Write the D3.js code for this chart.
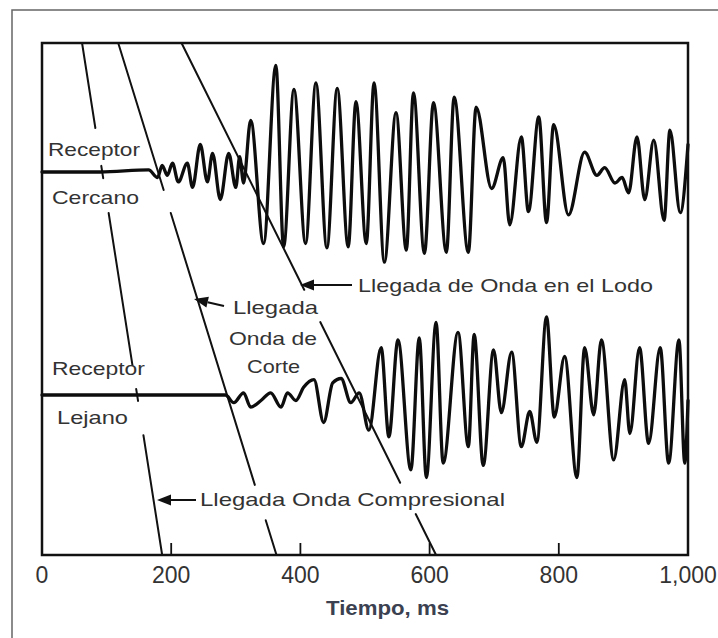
<!DOCTYPE html>
<html><head><meta charset="utf-8">
<script src="https://cdn.jsdelivr.net/npm/d3@7"></script>
<style>body{margin:0;background:#fff;} svg{display:block;}</style>
</head><body><svg id="chart" width="718" height="638"></svg>
<script>
// ---------- data ----------
const timeTicks = [0, 200, 400, 600, 800, 1000];
const tickLabels = ["0", "200", "400", "600", "800", "1,000"];
const innerTicks = [200, 400, 600, 800];

// Near receiver waveform (time ms, relative amplitude)
const nearTime = [0, 90, 165, 179, 186, 194, 202, 211, 225, 233, 245, 256, 264, 276, 289, 300, 306, 312,
  323, 343, 362, 374, 390, 408, 424, 441, 457, 474, 486, 502, 514, 530, 548, 564, 575, 592, 606, 626,
  638, 660, 672, 696, 714, 724, 742, 753, 769, 781, 792, 815, 840, 859, 871, 887, 898, 908, 921, 933,
  947, 963, 972, 988, 1000];
const nearAmp = [0, 0, 0.02, -0.05, 0.06, -0.03, 0.08, -0.09, 0.08, -0.14, 0.25, -0.09, 0.17, -0.25, 0.17, -0.14, 0.14, -0.10,
  0.47, -0.65, 0.97, -0.68, 0.75, -0.65, 0.81, -0.69, 0.76, -0.68, 0.64, -0.65, 0.81, -0.82, 0.54, -0.71, 0.72, -0.74, 0.63, -0.73,
  0.68, -0.73, 0.59, -0.15, 0.13, -0.48, 0.32, -0.36, 0.50, -0.46, 0.43, -0.39, 0.18, -0.03, 0.04, -0.10, -0.05, -0.19, 0.32, -0.25,
  0.29, -0.44, 0.38, -0.37, 0.25];

// Far receiver waveform (time ms, relative amplitude)
const farTime = [0, 284, 297, 312, 323, 339, 354, 370, 380, 393, 405, 421, 436, 450, 463, 478, 491, 506, 525, 537,
  551, 571, 584, 595, 610, 621, 644, 660, 669, 683, 699, 711, 727, 742, 755, 766, 781, 793, 809, 828,
  840, 854, 866, 885, 902, 910, 925, 939, 957, 970, 986, 995, 1000];
const farAmp = [0, 0, -0.07, 0.02, -0.11, -0.05, 0.02, -0.11, 0.02, -0.05, 0.07, 0.14, -0.25, 0.11, 0.15, -0.07, 0.02, -0.32, 0.43, -0.38,
  0.50, -0.68, 0.52, -0.75, 0.66, -0.62, 0.57, -0.47, 0.55, -0.64, 0.41, -0.16, 0.39, -0.47, -0.15, -0.43, 0.71, -0.20, 0.35, -0.75,
  0.43, -0.18, 0.50, -0.59, 0.14, -0.35, 0.43, -0.44, 0.43, -0.62, 0.50, -0.62, -0.05];

// Arrival (moveout) lines: time at top and bottom of the panel, visible depth spans (0 = top, 1 = bottom)
const arrivalNames = ["Compresional", "Corte", "Lodo"];
const arrivalTop = [62, 118, 216];
const arrivalBottom = [186, 363, 610];
const arrivalVisible = [
  [[0, 0.166], [0.24, 0.264], [0.332, 0.629], [0.676, 0.699], [0.766, 1]],
  [[0, 0.287], [0.332, 0.863], [0.932, 1]],
  [[0, 0.482], [0.545, 0.859], [0.92, 1]]
];
const traceDepth = [0.252, 0.6875];

// ---------- layout ----------
const svg = d3.select("#chart");
const box = {left: 42, right: 688, top: 43, bottom: 555};

const x = d3.scaleLinear().domain([0, 1000]).range([box.left, box.right]);
const depth = d3.scaleLinear().domain([0, 1]).range([box.top, box.bottom]);
const amp = d3.scaleLinear().domain([0, 1]).range([0, 110]);

// outer frame
svg.append("rect").attr("x", 12).attr("y", 10).attr("width", 800).attr("height", 800)
  .attr("fill", "none").attr("stroke", "#666").attr("stroke-width", 1.5);

// arrival lines
arrivalNames.forEach((n, i) => {
  const tAt = d => arrivalTop[i] + (arrivalBottom[i] - arrivalTop[i]) * d;
  svg.append("g").attr("class", "arrival-" + n).selectAll("line")
    .data(arrivalVisible[i]).join("line")
    .attr("x1", d => x(tAt(d[0]))).attr("y1", d => depth(d[0]))
    .attr("x2", d => x(tAt(d[1]))).attr("y2", d => depth(d[1]))
    .attr("stroke", "#111").attr("stroke-width", 2).attr("stroke-linecap", "round");
});

// traces
function drawTrace(times, amps, d0) {
  const pts = times.map((t, i) => [t, amps[i]]);
  const line = d3.line()
    .x(d => x(d[0]))
    .y(d => depth(d0) - amp(d[1]))
    .curve(d3.curveMonotoneX);
  svg.append("path").datum(pts).attr("d", line)
    .attr("fill", "none").attr("stroke", "#0d0d0d").attr("stroke-width", 3.3)
    .attr("stroke-linejoin", "round").attr("stroke-linecap", "round");
}
drawTrace(nearTime, nearAmp, traceDepth[0]);
drawTrace(farTime, farAmp, traceDepth[1]);

// panel box
svg.append("rect").attr("x", box.left).attr("y", box.top)
  .attr("width", box.right - box.left).attr("height", box.bottom - box.top)
  .attr("fill", "none").attr("stroke", "#111").attr("stroke-width", 2.5);

// bottom inner ticks
svg.append("g").selectAll("line").data(innerTicks).join("line")
  .attr("x1", d => x(d)).attr("x2", d => x(d))
  .attr("y1", box.bottom).attr("y2", box.bottom - 12)
  .attr("stroke", "#111").attr("stroke-width", 1.8);

// tick labels
svg.append("g").selectAll("text").data(timeTicks).join("text")
  .attr("x", d => x(d)).attr("y", 583)
  .attr("text-anchor", "middle")
  .attr("font-family", "Liberation Sans, Arial, sans-serif")
  .attr("font-size", 23).attr("fill", "#333")
  .text((d, i) => tickLabels[i]);

// axis title
svg.append("text").attr("x", 326).attr("y", 615)
  .attr("font-family", "Liberation Sans, Arial, sans-serif").attr("font-weight", "bold")
  .attr("font-size", 21).attr("fill", "#3b4150")
  .attr("textLength", 123).attr("lengthAdjust", "spacingAndGlyphs")
  .text("Tiempo, ms");

// annotations
const notes = [
  {t: "Receptor", x: 48, y: 156, w: 92},
  {t: "Cercano", x: 52, y: 204, w: 87},
  {t: "Receptor", x: 52, y: 375, w: 93},
  {t: "Lejano", x: 57, y: 424, w: 71},
  {t: "Llegada de Onda en el Lodo", x: 358, y: 292, w: 295},
  {t: "Llegada", x: 233, y: 314, w: 85},
  {t: "Onda de", x: 229, y: 345, w: 88},
  {t: "Corte", x: 247, y: 373, w: 53},
  {t: "Llegada Onda Compresional", x: 200, y: 506, w: 305}
];
svg.append("g").selectAll("text").data(notes).join("text")
  .attr("x", d => d.x).attr("y", d => d.y)
  .attr("font-family", "Liberation Sans, Arial, sans-serif")
  .attr("font-size", 19).attr("fill", "#333")
  .attr("textLength", d => d.w).attr("lengthAdjust", "spacingAndGlyphs")
  .text(d => d.t);

// arrows
const arrows = [
  {x1: 352, y1: 285, x2: 300, y2: 285},
  {x1: 224, y1: 306, x2: 194, y2: 299},
  {x1: 196, y1: 500, x2: 157, y2: 500}
];
arrows.forEach(a => {
  const ang = Math.atan2(a.y2 - a.y1, a.x2 - a.x1);
  const L = 14, hw = 5.5;
  const bx = a.x2 - L * Math.cos(ang), by = a.y2 - L * Math.sin(ang);
  svg.append("line").attr("x1", a.x1).attr("y1", a.y1).attr("x2", bx).attr("y2", by)
    .attr("stroke", "#111").attr("stroke-width", 2);
  const p = [[a.x2, a.y2],
    [bx + hw * Math.sin(ang), by - hw * Math.cos(ang)],
    [bx - hw * Math.sin(ang), by + hw * Math.cos(ang)]];
  svg.append("path").attr("d", "M" + p.map(q => q.join(",")).join("L") + "Z").attr("fill", "#111");
});
</script>
</body></html>
